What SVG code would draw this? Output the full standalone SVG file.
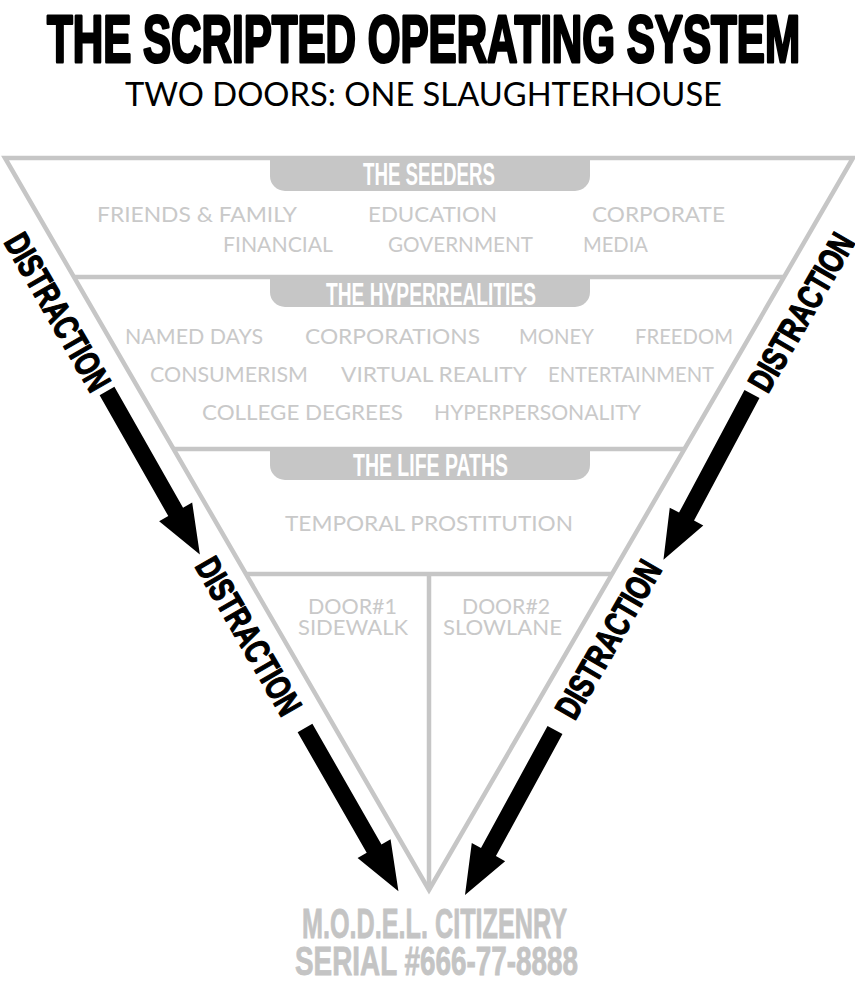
<svg xmlns="http://www.w3.org/2000/svg" xmlns:xlink="http://www.w3.org/1999/xlink" width="855" height="985" viewBox="0 0 855 985">
<style>
.hd{font-family:"Liberation Sans",Arial,sans-serif;font-weight:bold;fill:#000;stroke:#000;stroke-linejoin:round}
.sub{font-family:Lato,"Open Sans",sans-serif;font-size:33px;fill:#000}
.item{font-family:Lato,"Open Sans",sans-serif;font-size:22px;fill:#c9c9c9}
.pill{fill:#c6c6c6}
.ptxt{font-family:"Liberation Sans",Arial,sans-serif;font-weight:bold;font-size:32px;fill:#fff;text-anchor:middle}
.frame{fill:none;stroke:#c6c6c6;stroke-width:4.5}
.dist{font-family:"Liberation Sans",Arial,sans-serif;font-weight:bold;font-size:35px;fill:#000;stroke:#000;stroke-width:1.3;stroke-linejoin:round;text-anchor:middle}
.out{font-family:"Liberation Sans",Arial,sans-serif;font-weight:bold;fill:#c4c4c4;stroke:#c4c4c4;stroke-width:0.8;text-anchor:middle}
</style>
<defs>
<path id="arr" d="M0,-8.5 H139 V-19 L188,0 L139,19 V8.5 H0 Z" fill="#000"/>
</defs>
<rect width="855" height="985" fill="#fff"/>

<g id="title">
<text class="hd" x="47" y="62" font-size="66" stroke-width="3" textLength="753" lengthAdjust="spacingAndGlyphs">THE SCRIPTED OPERATING SYSTEM</text>
<text class="sub" x="125" y="106" textLength="597" lengthAdjust="spacingAndGlyphs">TWO DOORS: ONE SLAUGHTERHOUSE</text>
</g>

<g id="frame">
<polygon class="frame" points="5,158 853,158 429,890"/>
<line class="frame" x1="74" y1="277" x2="784" y2="277"/>
<line class="frame" x1="173" y1="449" x2="685" y2="449"/>
<line class="frame" x1="246" y1="574" x2="612" y2="574"/>
<line class="frame" x1="429" y1="574" x2="429" y2="888"/>
</g>

<g id="seeders">
<path class="pill" d="M270,157 H590 V176 A15,15 0 0 1 575,191 H285 A15,15 0 0 1 270,176 Z"/>
<text class="ptxt" x="429" y="185" textLength="132" lengthAdjust="spacingAndGlyphs">THE SEEDERS</text>
<text class="item" x="97" y="222" textLength="200" lengthAdjust="spacingAndGlyphs">FRIENDS &amp; FAMILY</text>
<text class="item" x="368" y="222" textLength="129" lengthAdjust="spacingAndGlyphs">EDUCATION</text>
<text class="item" x="592" y="222" textLength="133" lengthAdjust="spacingAndGlyphs">CORPORATE</text>
<text class="item" x="223" y="252" textLength="110" lengthAdjust="spacingAndGlyphs">FINANCIAL</text>
<text class="item" x="388" y="252" textLength="145" lengthAdjust="spacingAndGlyphs">GOVERNMENT</text>
<text class="item" x="583" y="252" textLength="65" lengthAdjust="spacingAndGlyphs">MEDIA</text>
</g>

<g id="hyperrealities">
<path class="pill" d="M270,277 H590 V292 A15,15 0 0 1 575,307 H285 A15,15 0 0 1 270,292 Z"/>
<text class="ptxt" x="431" y="305" textLength="210" lengthAdjust="spacingAndGlyphs">THE HYPERREALITIES</text>
<text class="item" font-size="23" x="125" y="344" textLength="138" lengthAdjust="spacingAndGlyphs">NAMED DAYS</text>
<text class="item" font-size="23" x="305" y="344" textLength="175" lengthAdjust="spacingAndGlyphs">CORPORATIONS</text>
<text class="item" font-size="23" x="519" y="344" textLength="75" lengthAdjust="spacingAndGlyphs">MONEY</text>
<text class="item" font-size="23" x="635" y="344" textLength="98" lengthAdjust="spacingAndGlyphs">FREEDOM</text>
<text class="item" font-size="23" x="150" y="382" textLength="158" lengthAdjust="spacingAndGlyphs">CONSUMERISM</text>
<text class="item" font-size="23" x="341" y="382" textLength="186" lengthAdjust="spacingAndGlyphs">VIRTUAL REALITY</text>
<text class="item" font-size="23" x="548" y="382" textLength="166" lengthAdjust="spacingAndGlyphs">ENTERTAINMENT</text>
<text class="item" font-size="23" x="202" y="420" textLength="201" lengthAdjust="spacingAndGlyphs">COLLEGE DEGREES</text>
<text class="item" font-size="23" x="434" y="420" textLength="207" lengthAdjust="spacingAndGlyphs">HYPERPERSONALITY</text>
</g>

<g id="lifepaths">
<path class="pill" d="M270,449 H590 V465 A15,15 0 0 1 575,480 H285 A15,15 0 0 1 270,465 Z"/>
<text class="ptxt" x="430.5" y="476" textLength="155" lengthAdjust="spacingAndGlyphs">THE LIFE PATHS</text>
<text class="item" font-size="23" x="285" y="531" textLength="288" lengthAdjust="spacingAndGlyphs">TEMPORAL PROSTITUTION</text>
</g>

<g id="door1">
<text class="item" font-size="21" x="308" y="614" textLength="89" lengthAdjust="spacingAndGlyphs">DOOR#1</text>
<text class="item" font-size="21" x="298" y="635" textLength="110" lengthAdjust="spacingAndGlyphs">SIDEWALK</text>
</g>

<g id="door2">
<text class="item" font-size="21" x="462" y="614" textLength="88" lengthAdjust="spacingAndGlyphs">DOOR#2</text>
<text class="item" font-size="21" x="443" y="635" textLength="119" lengthAdjust="spacingAndGlyphs">SLOWLANE</text>
</g>

<g id="citizenry">
<text class="out" x="434.5" y="938" font-size="42" textLength="265" lengthAdjust="spacingAndGlyphs">M.O.D.E.L. CITIZENRY</text>
<text class="out" x="436.5" y="975" font-size="41" textLength="283" lengthAdjust="spacingAndGlyphs">SERIAL #666-77-8888</text>
</g>

<g id="distraction-labels">
<text class="dist" transform="translate(58,312) rotate(60)" x="0" y="12.5" textLength="176" lengthAdjust="spacingAndGlyphs">DISTRACTION</text>
<text class="dist" transform="translate(249,636) rotate(60)" x="0" y="12.5" textLength="176" lengthAdjust="spacingAndGlyphs">DISTRACTION</text>
<text class="dist" transform="translate(801,312) rotate(-60)" x="0" y="12.5" textLength="176" lengthAdjust="spacingAndGlyphs">DISTRACTION</text>
<text class="dist" transform="translate(608,639) rotate(-60)" x="0" y="12.5" textLength="176" lengthAdjust="spacingAndGlyphs">DISTRACTION</text>
</g>

<g id="connectors">
<use xlink:href="#arr" transform="translate(107,391) rotate(60.4)"/>
<use xlink:href="#arr" transform="translate(305,728) rotate(60.2)"/>
<use xlink:href="#arr" transform="translate(752,394) rotate(118.1)"/>
<use xlink:href="#arr" transform="translate(555,730) rotate(118.6)"/>
</g>
</svg>
